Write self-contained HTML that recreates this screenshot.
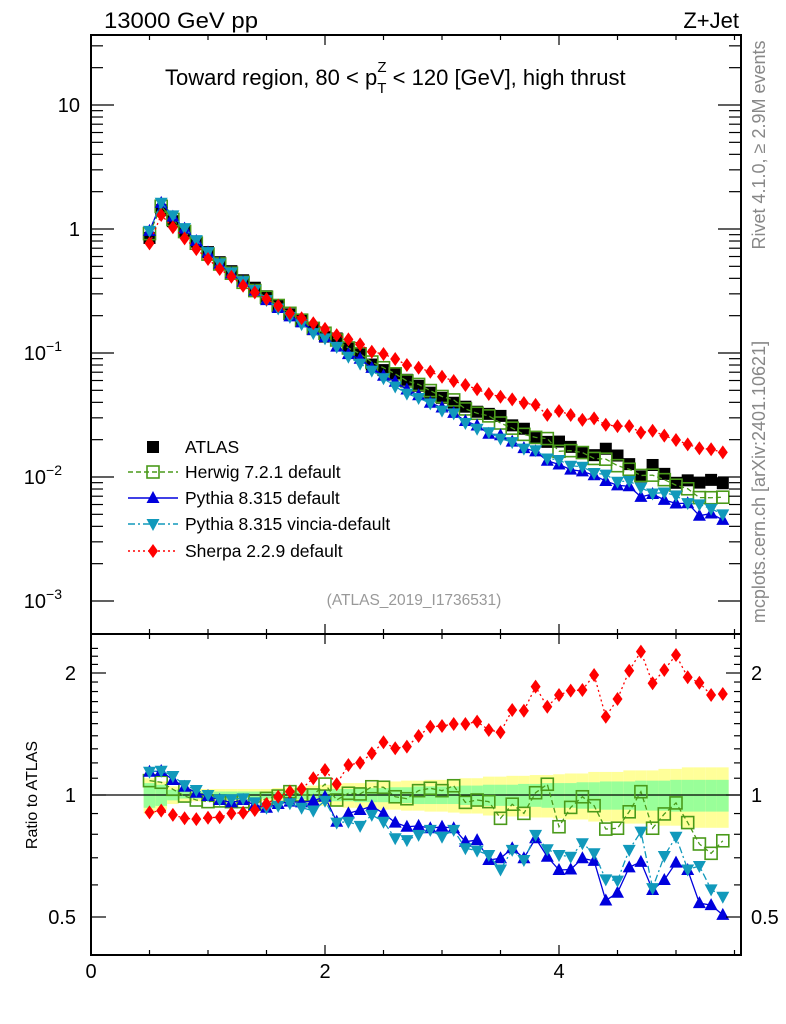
<!DOCTYPE html>
<html><head><meta charset="utf-8"><style>
html,body{margin:0;padding:0;background:#fff;}
svg{display:block;font-family:"Liberation Sans",sans-serif;}
</style></head><body>
<svg id="chart" width="786" height="1024" viewBox="0 0 786 1024" xmlns="http://www.w3.org/2000/svg">
<text x="104" y="28" font-size="22" textLength="154" lengthAdjust="spacingAndGlyphs">13000 GeV pp</text>
<text x="739" y="28" font-size="22" text-anchor="end">Z+Jet</text>
<text x="165" y="85" font-size="22">Toward region, 80 &lt; p<tspan font-size="15" dy="8">T</tspan><tspan font-size="15" dx="-9" dy="-21">Z</tspan><tspan dy="13"> &lt; 120 [GeV], high thrust</tspan></text>
<text x="414" y="605" font-size="15.5" fill="#999" text-anchor="middle">(ATLAS_2019_I1736531)</text>
<text transform="translate(765,145) rotate(-90)" font-size="18" fill="#888" text-anchor="middle">Rivet 4.1.0, ≥ 2.9M events</text>
<text transform="translate(765,482) rotate(-90)" font-size="18" fill="#888" text-anchor="middle">mcplots.cern.ch [arXiv:2401.10621]</text>
<text transform="translate(37,795) rotate(-90)" font-size="16" text-anchor="middle">Ratio to ATLAS</text>
<g id="bands"></g><g id="grid"></g><g id="series"></g><g id="axes"></g><g id="legend"></g>
</svg>
<script>
const xVals=[0.5,0.6,0.7,0.8,0.9,1.0,1.1,1.2,1.3,1.4,1.5,1.6,1.7,1.8,1.9,2.0,2.1,2.2,2.3,2.4,2.5,2.6,2.7,2.8,2.9,3.0,3.1,3.2,3.3,3.4,3.5,3.6,3.7,3.8,3.9,4.0,4.1,4.2,4.3,4.4,4.5,4.6,4.7,4.8,4.9,5.0,5.1,5.2,5.3,5.4];
const atlasVals=[0.846,1.418,1.156,0.960,0.790,0.651,0.540,0.457,0.386,0.336,0.287,0.243,0.205,0.184,0.158,0.1356,0.131,0.1087,0.0978,0.0807,0.0728,0.0686,0.0608,0.0544,0.0479,0.0435,0.0397,0.0369,0.0336,0.0323,0.0311,0.0261,0.0245,0.0206,0.0192,0.0193,0.0175,0.0159,0.0150,0.0169,0.0149,0.0127,0.0101,0.0125,0.0106,0.00898,0.00940,0.00901,0.00948,0.00891];
const statErr=[0.07,0.06,0.03,0.02,0.02,0.02,0.02,0.02,0.02,0.02,0.02,0.02,0.025,0.025,0.03,0.03,0.035,0.035,0.04,0.04,0.04,0.045,0.045,0.05,0.05,0.05,0.05,0.055,0.055,0.06,0.06,0.06,0.065,0.065,0.07,0.07,0.07,0.075,0.075,0.08,0.08,0.08,0.085,0.085,0.085,0.09,0.09,0.09,0.09,0.09];
const totErr=[0.1,0.08,0.05,0.04,0.035,0.035,0.035,0.035,0.035,0.035,0.035,0.04,0.045,0.05,0.055,0.06,0.065,0.07,0.07,0.075,0.08,0.08,0.085,0.085,0.09,0.09,0.095,0.1,0.1,0.11,0.11,0.115,0.115,0.12,0.12,0.125,0.13,0.13,0.14,0.14,0.14,0.15,0.15,0.15,0.16,0.16,0.17,0.17,0.17,0.17];
const herwigRatio=[1.085,1.075,1.033,0.994,0.972,0.963,0.967,0.963,0.963,0.949,0.981,0.994,1.019,1.0,1.0,1.064,0.972,1.01,1.006,1.048,1.045,0.99,0.979,1.025,1.039,1.025,1.054,0.959,0.972,0.963,0.876,0.949,0.901,1.013,1.063,0.835,0.932,0.99,0.941,0.824,0.828,0.909,1.019,0.828,0.898,0.956,0.855,0.757,0.718,0.771];
const pythiaRatio=[1.141,1.146,1.089,1.048,1.013,0.994,0.972,0.959,0.972,0.945,0.930,0.950,0.963,0.959,0.968,0.99,0.859,0.901,0.918,0.939,0.901,0.855,0.835,0.839,0.828,0.835,0.828,0.767,0.774,0.691,0.698,0.739,0.698,0.782,0.704,0.653,0.655,0.698,0.688,0.549,0.574,0.663,0.684,0.583,0.617,0.681,0.653,0.541,0.535,0.506];
const vinciaRatio=[1.141,1.148,1.114,1.058,1.029,1.0,0.976,0.976,0.981,0.959,0.930,0.941,0.954,0.930,0.915,0.968,0.855,0.859,0.839,0.893,0.859,0.782,0.774,0.797,0.820,0.789,0.820,0.739,0.729,0.711,0.655,0.732,0.691,0.797,0.735,0.711,0.704,0.760,0.718,0.619,0.615,0.732,0.812,0.589,0.707,0.789,0.655,0.668,0.585,0.561];
const sherpaRatio=[0.906,0.915,0.893,0.876,0.872,0.879,0.881,0.901,0.904,0.918,0.95,0.99,1.019,1.035,1.10,1.153,1.064,1.186,1.201,1.267,1.349,1.304,1.316,1.398,1.474,1.48,1.497,1.497,1.517,1.447,1.428,1.621,1.614,1.851,1.651,1.765,1.809,1.816,1.978,1.56,1.725,2.026,2.258,1.887,2.035,2.216,1.952,1.892,1.765,1.775];
const mainTicks=[{v:10,l:"10"},{v:1,l:"1"},{v:0.1,l:"10",e:"−1"},{v:0.01,l:"10",e:"−2"},{v:0.001,l:"10",e:"−3"}];
const ratioTicks=[{v:0.5,l:"0.5"},{v:1,l:"1"},{v:2,l:"2"}];
const xTicks=[0,2,4];

const NS="http://www.w3.org/2000/svg";
const L=91,R=741,T=35,MB=634,RB=955;
const X=v=>L+v*117;
const Ym=v=>229-124*Math.log10(v);
const Yr=v=>795-122*Math.log2(v);
function mk(tag,attrs,parent){const e=document.createElementNS(NS,tag);for(const k in attrs)e.setAttribute(k,attrs[k]);parent.appendChild(e);return e;}
const gB=document.getElementById('bands'),gS=document.getElementById('series'),gA=document.getElementById('axes'),gL=document.getElementById('legend');

xVals.forEach((x,i)=>{
 const x0=X(x-0.05),x1=X(x+0.05);
 const y=mk('rect',{x:x0,y:Yr(1+totErr[i]),width:x1-x0,height:Yr(1-totErr[i])-Yr(1+totErr[i]),fill:'#ffff99'},gB);
 
 
 const g=mk('rect',{x:x0,y:Yr(1+statErr[i]),width:x1-x0,height:Yr(1-statErr[i])-Yr(1+statErr[i]),fill:'#99ff99'},gB);
 
 
});
const one=mk('line',{x1:L,x2:R,y1:Yr(1),y2:Yr(1),stroke:'#000','stroke-width':1.2},gB);



function marker(type,cx,cy,col,parent){
 let e;
 if(type==='sq') e=mk('rect',{x:cx-6,y:cy-6,width:12,height:12,fill:'#000'},parent);
 else if(type==='osq') e=mk('rect',{x:cx-6,y:cy-6,width:12,height:12,fill:'none',stroke:col,'stroke-width':1.6},parent);
 else if(type==='up') e=mk('polygon',{points:`${cx},${cy-7} ${cx-6.5},${cy+5} ${cx+6.5},${cy+5}`,fill:col},parent);
 else if(type==='dn') e=mk('polygon',{points:`${cx},${cy+7} ${cx-6.5},${cy-5} ${cx+6.5},${cy-5}`,fill:col},parent);
 else e=mk('polygon',{points:`${cx},${cy-7} ${cx-5},${cy} ${cx},${cy+7} ${cx+5},${cy}`,fill:col},parent);
 return e;
}
const series=[
 {name:'herwig',r:herwigRatio,col:'#4a9a1a',m:'osq',dash:'5,3',lab:'Herwig 7.2.1 default'},
 {name:'pythia',r:pythiaRatio,col:'#0000dd',m:'up',dash:'',lab:'Pythia 8.315 default'},
 {name:'vincia',r:vinciaRatio,col:'#1199bb',m:'dn',dash:'7,3,2,3',lab:'Pythia 8.315 vincia-default'},
 {name:'sherpa',r:sherpaRatio,col:'#ff0000',m:'dia',dash:'2,3',lab:'Sherpa 2.2.9 default'}
];
atlasVals.forEach((v,i)=>{
 const e=marker('sq',X(xVals[i]),Ym(v),'#000',gS);
 
 
});
series.forEach(s=>{
 const pm=xVals.map((x,i)=>`${X(x)},${Ym(atlasVals[i]*s.r[i])}`).join(' ');
 const pl=mk('polyline',{points:pm,fill:'none',stroke:s.col,'stroke-width':1.3,'stroke-dasharray':s.dash},gS);
 
 
 const pr=xVals.map((x,i)=>`${X(x)},${Yr(s.r[i])}`).join(' ');
 const rl=mk('polyline',{points:pr,fill:'none',stroke:s.col,'stroke-width':1.3,'stroke-dasharray':s.dash},gS);
 
 
 xVals.forEach((x,i)=>{
  const a=marker(s.m,X(x),Ym(atlasVals[i]*s.r[i]),s.col,gS);
  
  
  const b=marker(s.m,X(x),Yr(s.r[i]),s.col,gS);
  
  
 });
});

const f1=mk('rect',{x:L,y:T,width:R-L,height:MB-T,fill:'none',stroke:'#000','stroke-width':2},gA);


const f2=mk('rect',{x:L,y:MB,width:R-L,height:RB-MB,fill:'none',stroke:'#000','stroke-width':2},gA);


for(let d=-3;d<=1;d++){for(let k=1;k<=9;k++){const v=k*Math.pow(10,d);const y=Ym(v);if(y<T||y>MB)continue;const len=k===1?23:12;
 mk('line',{x1:L,x2:L+len,y1:y,y2:y,stroke:'#000','stroke-width':1.2},gA);
 mk('line',{x1:R,x2:R-len,y1:y,y2:y,stroke:'#000','stroke-width':1.2},gA);}}
mainTicks.forEach(t=>{
 const tx=mk('text',{x:t.e?62:80,y:Ym(t.v)+7,'font-size':20,'text-anchor':'end'},gA);
 
 
 tx.textContent=t.l;
 if(t.e){const s=mk('tspan',{'font-size':14,dy:-9},tx);s.textContent=t.e;}
});
[0.5,0.6,0.7,0.8,0.9,1,1.1,1.2,1.3,1.4,1.5,1.6,1.7,1.8,1.9,2].forEach(v=>{const y=Yr(v);const maj=(v===0.5||v===1||v===2);const len=maj?15:7;
 mk('line',{x1:L,x2:L+len,y1:y,y2:y,stroke:'#000','stroke-width':1.2},gA);
 mk('line',{x1:R,x2:R-len,y1:y,y2:y,stroke:'#000','stroke-width':1.2},gA);});
[2.1,2.2,2.3].forEach(v=>{const y=Yr(v);if(y>MB){mk('line',{x1:L,x2:L+7,y1:y,y2:y,stroke:'#000','stroke-width':1.2},gA);mk('line',{x1:R,x2:R-7,y1:y,y2:y,stroke:'#000','stroke-width':1.2},gA);}});
ratioTicks.forEach(t=>{
 const a=mk('text',{x:76,y:Yr(t.v)+7,'font-size':20,'text-anchor':'end'},gA);
 
 
 a.textContent=t.l;
 const b=mk('text',{x:751,y:Yr(t.v)+7,'font-size':20},gA);
 
 
 b.textContent=t.l;
});
for(let v=0;v<=5.5;v+=0.5){const x=X(v);const maj=Math.abs(v%2)<1e-9;const len=maj?10:5;
 mk('line',{x1:x,x2:x,y1:RB,y2:RB-len,stroke:'#000','stroke-width':1.2},gA);
 mk('line',{x1:x,x2:x,y1:MB,y2:MB-len,stroke:'#000','stroke-width':1.2},gA);
 mk('line',{x1:x,x2:x,y1:T,y2:T+len,stroke:'#000','stroke-width':1.2},gA);
 mk('line',{x1:x,x2:x,y1:MB,y2:MB+len,stroke:'#000','stroke-width':1.2},gA);}
xTicks.forEach(v=>{
 const t=mk('text',{x:X(v),y:978,'font-size':20,'text-anchor':'middle'},gA);
 
 
 t.textContent=v;
});
const legY=[447,472,498,524,551];
const le0=mk('g',{},gL);


marker('sq',153,legY[0],'#000',le0);
const t0=mk('text',{x:185,y:legY[0]+6,'font-size':17.5},le0);t0.textContent='ATLAS';
series.forEach((s,i)=>{
 const y=legY[i+1];
 const g=mk('g',{},gL);
 
 
 mk('line',{x1:128,x2:178,y1:y,y2:y,stroke:s.col,'stroke-width':1.4,'stroke-dasharray':s.dash},g);
 marker(s.m,153,y,s.col,g);
 const t=mk('text',{x:185,y:y+6,'font-size':17.5},g);t.textContent=s.lab;
});
</script>
</body></html>
